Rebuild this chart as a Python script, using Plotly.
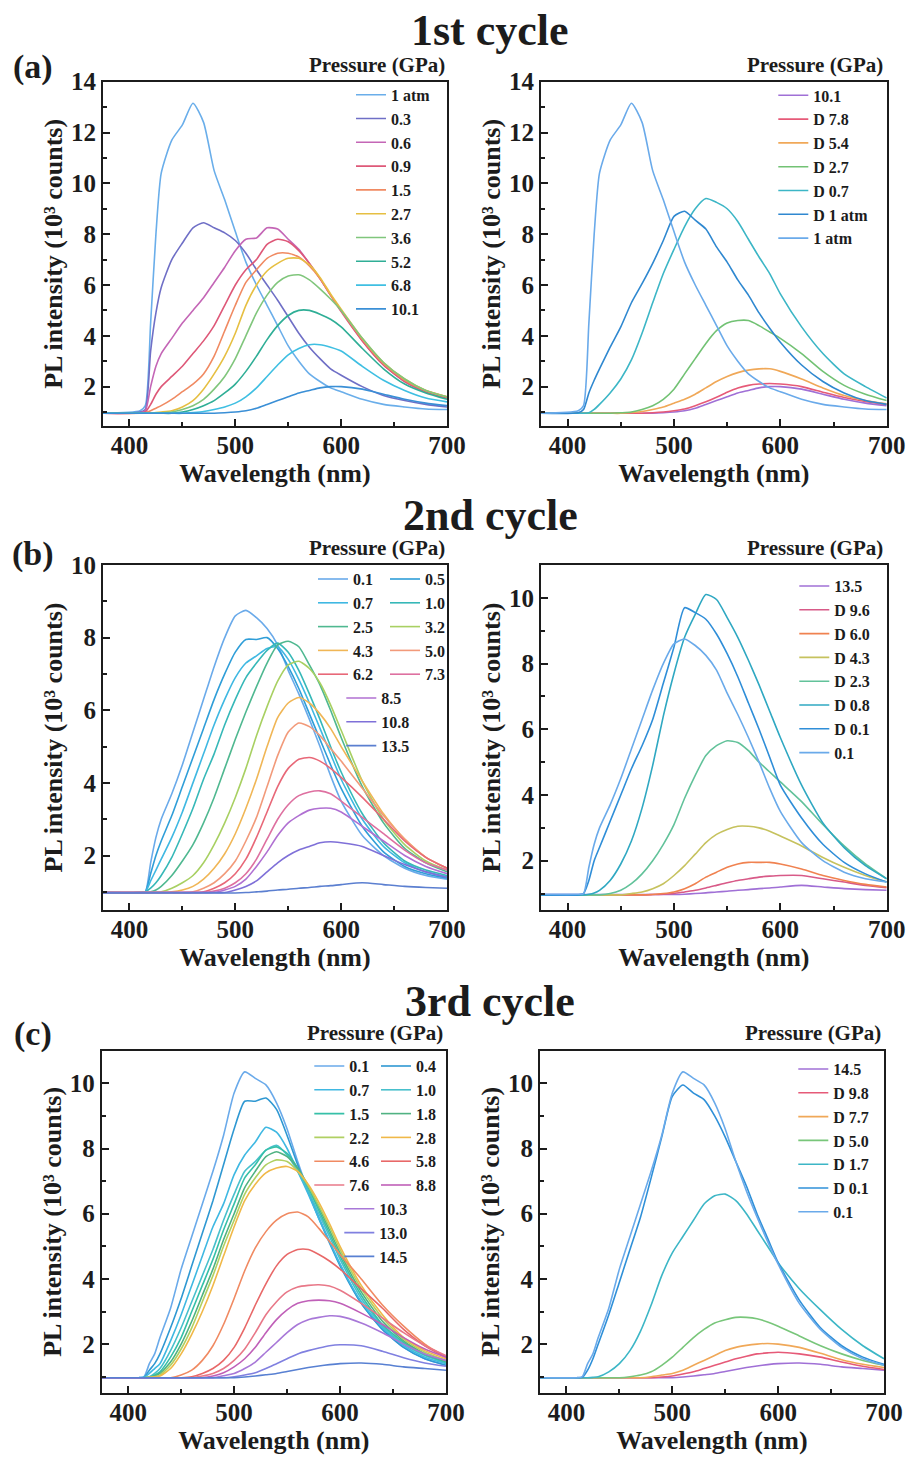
import plotly.graph_objects as go

W, H = 910, 1459
FONT = "Liberation Serif"
INK = "#1c1c1c"

# ------------------------------------------------------------------ data
WAVELENGTH = [375, 410, 415, 420, 425, 430, 440, 450, 460, 470, 480, 490, 500,
              510, 520, 530, 540, 550, 560, 570, 580, 590, 600, 620, 640, 660, 680, 700]

# 1st cycle, compression (10^3 counts)
c1_1atm = [0.95,1.05,1.25,4.5,8.0,10.4,11.7,12.3,13.15,12.4,10.5,9.35,8.1,6.9,6.0,5.2,4.4,3.6,3.0,2.5,2.2,1.95,1.8,1.5,1.3,1.2,1.12,1.1]
c1_0p3 = [0.95,1.0,1.1,3.4,4.9,5.9,7.0,7.65,8.25,8.45,8.25,8.05,7.75,7.25,6.6,6.0,5.4,4.75,4.1,3.55,3.1,2.7,2.45,2.0,1.65,1.45,1.3,1.2]
c1_0p6 = [0.95,0.97,1.05,2.0,2.8,3.3,3.9,4.5,5.0,5.5,6.1,6.7,7.35,7.8,7.85,8.25,8.2,7.8,7.4,6.85,6.25,5.6,5.0,3.8,2.85,2.2,1.8,1.55]
c1_0p9 = [0.95,0.96,1.0,1.3,1.7,2.0,2.4,2.8,3.3,3.8,4.4,5.2,6.0,6.6,7.0,7.6,7.8,7.7,7.35,6.85,6.25,5.6,4.95,3.8,2.85,2.2,1.8,1.55]
c1_1p5 = [0.95,0.95,0.97,1.05,1.15,1.25,1.5,1.8,2.1,2.5,3.2,4.2,5.2,6.1,6.6,7.05,7.25,7.25,7.1,6.75,6.25,5.6,5.0,3.85,2.9,2.25,1.85,1.6]
c1_2p7 = [0.95,0.95,0.95,0.96,0.98,1.0,1.05,1.2,1.45,1.9,2.5,3.2,4.1,5.2,6.0,6.55,6.85,7.05,7.05,6.8,6.3,5.65,5.05,3.9,2.95,2.3,1.85,1.6]
c1_3p6 = [0.95,0.95,0.95,0.95,0.96,0.97,1.0,1.1,1.25,1.5,1.9,2.4,3.1,4.0,4.9,5.6,6.1,6.35,6.4,6.2,5.85,5.45,5.0,3.9,2.95,2.3,1.85,1.6]
c1_5p2 = [0.95,0.95,0.95,0.95,0.95,0.95,0.95,1.0,1.1,1.25,1.45,1.75,2.1,2.6,3.2,3.85,4.4,4.8,5.0,5.0,4.85,4.65,4.35,3.5,2.7,2.1,1.75,1.5]
c1_6p8 = [0.95,0.95,0.95,0.95,0.95,0.95,0.95,0.95,0.98,1.02,1.1,1.2,1.35,1.6,1.95,2.4,2.85,3.25,3.5,3.65,3.65,3.55,3.4,2.8,2.25,1.85,1.55,1.4]
c1_10p1 = [0.95,0.95,0.95,0.95,0.95,0.95,0.95,0.95,0.95,0.95,0.95,0.97,1.0,1.05,1.15,1.3,1.45,1.6,1.75,1.85,1.95,2.0,2.0,1.9,1.7,1.5,1.35,1.25]

# 1st cycle, decompression
c1d_10p1 = [0.95,0.95,0.95,0.95,0.95,0.95,0.95,0.95,0.95,0.95,0.96,0.98,1.0,1.05,1.15,1.27,1.4,1.55,1.7,1.8,1.88,1.95,1.98,1.92,1.72,1.52,1.37,1.25]
c1d_7p8 = [0.95,0.95,0.95,0.95,0.95,0.95,0.95,0.95,0.95,0.95,0.97,1.0,1.05,1.12,1.25,1.4,1.58,1.78,1.95,2.05,2.1,2.12,2.1,2.0,1.78,1.57,1.42,1.3]
c1d_5p4 = [0.95,0.95,0.95,0.95,0.95,0.95,0.95,0.95,0.98,1.02,1.1,1.2,1.35,1.5,1.7,1.95,2.2,2.4,2.55,2.65,2.7,2.7,2.6,2.3,1.95,1.65,1.45,1.32]
c1d_2p7 = [0.95,0.95,0.95,0.95,0.95,0.95,0.95,0.97,1.0,1.1,1.25,1.5,1.9,2.5,3.1,3.7,4.2,4.5,4.6,4.6,4.4,4.15,3.9,3.3,2.6,2.05,1.7,1.45]
c1d_0p7 = [0.95,0.95,0.95,0.97,1.1,1.3,1.75,2.3,3.05,4.1,5.3,6.45,7.4,8.3,9.0,9.4,9.25,9.0,8.5,7.8,7.1,6.45,5.65,4.35,3.3,2.5,2.0,1.55]
c1d_1atm = [0.95,0.97,1.1,1.75,2.25,2.7,3.55,4.35,5.3,6.05,6.85,7.75,8.7,8.9,8.55,8.2,7.5,6.9,6.2,5.6,4.9,4.3,3.75,2.85,2.2,1.75,1.45,1.3]

# 2nd cycle, compression
c2_0p1 = [0.98,0.98,1.0,1.8,2.5,3.0,3.7,4.5,5.4,6.3,7.2,8.0,8.6,8.75,8.55,8.25,7.8,7.1,6.45,5.75,5.0,4.2,3.5,2.55,2.0,1.65,1.45,1.35]
c2_0p5 = [0.98,0.98,1.0,1.5,2.0,2.4,3.1,3.9,4.7,5.5,6.3,7.0,7.6,7.95,7.95,8.0,7.7,7.2,6.6,5.9,5.2,4.5,3.85,2.8,2.1,1.7,1.5,1.38]
c2_0p7 = [0.98,0.98,1.0,1.3,1.6,1.9,2.5,3.2,4.0,4.8,5.6,6.3,6.9,7.3,7.5,7.7,7.75,7.4,6.85,6.2,5.5,4.8,4.1,3.0,2.25,1.8,1.55,1.42]
c2_1p0 = [0.98,0.98,1.0,1.1,1.25,1.45,1.95,2.6,3.3,4.1,4.8,5.6,6.3,6.9,7.3,7.65,7.85,7.6,7.1,6.45,5.75,5.0,4.3,3.15,2.35,1.85,1.6,1.45]
c2_2p5 = [0.98,0.98,0.98,1.0,1.05,1.15,1.45,1.85,2.3,2.9,3.6,4.4,5.2,5.95,6.65,7.3,7.8,7.9,7.75,7.25,6.7,6.0,5.25,3.9,2.9,2.2,1.8,1.55]
c2_3p2 = [0.98,0.98,0.98,0.98,0.99,1.0,1.1,1.25,1.45,1.8,2.3,2.9,3.6,4.4,5.3,6.1,6.8,7.25,7.35,7.15,6.75,6.15,5.45,4.05,3.0,2.3,1.85,1.6]
c2_4p3 = [0.98,0.98,0.98,0.98,0.98,0.98,1.0,1.05,1.15,1.35,1.65,2.05,2.6,3.3,4.1,5.0,5.8,6.2,6.35,6.2,5.9,5.5,5.0,4.05,3.15,2.45,1.95,1.65]
c2_5p0 = [0.98,0.98,0.98,0.98,0.98,0.98,0.98,0.98,1.0,1.1,1.25,1.5,1.85,2.4,3.05,3.9,4.75,5.4,5.65,5.55,5.3,4.95,4.6,3.85,3.1,2.45,1.95,1.65]
c2_6p2 = [0.98,0.98,0.98,0.98,0.98,0.98,0.98,0.98,0.98,1.0,1.1,1.25,1.5,1.9,2.5,3.2,3.9,4.4,4.65,4.7,4.6,4.4,4.15,3.6,3.0,2.4,1.95,1.65]
c2_7p3 = [0.98,0.98,0.98,0.98,0.98,0.98,0.98,0.98,0.98,0.98,1.02,1.1,1.25,1.5,1.9,2.45,3.0,3.4,3.65,3.75,3.78,3.7,3.5,3.05,2.6,2.15,1.8,1.6]
c2_8p5 = [0.98,0.98,0.98,0.98,0.98,0.98,0.98,0.98,0.98,0.98,0.98,1.05,1.15,1.35,1.7,2.1,2.55,2.9,3.1,3.25,3.3,3.3,3.2,2.8,2.4,2.0,1.7,1.5]
c2_10p8 = [0.98,0.98,0.98,0.98,0.98,0.98,0.98,0.98,0.98,0.98,0.98,0.98,1.05,1.15,1.3,1.55,1.8,2.0,2.15,2.25,2.35,2.38,2.35,2.25,2.0,1.75,1.55,1.4]
c2_13p5 = [0.97,0.97,0.97,0.97,0.97,0.97,0.97,0.97,0.97,0.97,0.97,0.97,0.97,0.98,1.0,1.02,1.05,1.07,1.1,1.12,1.15,1.17,1.2,1.25,1.2,1.15,1.12,1.1]

# 2nd cycle, decompression
c2d_9p6 = [0.96,0.96,0.96,0.96,0.96,0.96,0.96,0.96,0.96,0.96,0.97,0.98,1.0,1.05,1.1,1.17,1.25,1.33,1.4,1.45,1.5,1.53,1.55,1.55,1.45,1.35,1.25,1.18]
c2d_6p0 = [0.96,0.96,0.96,0.96,0.96,0.96,0.96,0.96,0.96,0.96,0.97,1.0,1.05,1.15,1.3,1.5,1.65,1.8,1.9,1.95,1.95,1.95,1.9,1.75,1.55,1.4,1.28,1.2]
c2d_4p3 = [0.96,0.96,0.96,0.96,0.96,0.96,0.96,0.96,1.0,1.05,1.15,1.3,1.55,1.85,2.2,2.55,2.8,2.95,3.05,3.05,3.0,2.9,2.75,2.45,2.1,1.8,1.55,1.35]
c2d_2p3 = [0.96,0.96,0.96,0.96,0.96,0.96,1.0,1.1,1.3,1.6,2.0,2.5,3.1,3.9,4.6,5.2,5.5,5.65,5.6,5.35,5.0,4.7,4.4,3.8,3.1,2.45,1.9,1.45]
c2d_0p8 = [0.96,0.96,0.96,0.98,1.02,1.1,1.4,1.9,2.6,3.6,4.9,6.4,7.7,8.8,9.5,10.1,9.95,9.4,8.8,8.1,7.35,6.55,5.75,4.3,3.15,2.4,1.85,1.45]
c2d_0p1 = [0.96,0.96,1.0,1.4,2.0,2.4,3.2,4.0,4.8,5.5,6.3,7.4,8.5,9.7,9.55,9.35,8.9,8.3,7.6,6.8,6.0,5.15,4.3,3.3,2.5,1.95,1.6,1.35]

# 3rd cycle, compression
c3_0p1 = [0.97,0.97,1.0,1.4,1.7,2.2,3.1,4.3,5.3,6.3,7.3,8.4,9.7,10.35,10.15,9.95,9.4,8.6,7.6,6.7,5.9,5.15,4.45,3.25,2.45,1.9,1.55,1.35]
c3_0p4 = [0.97,0.97,0.98,1.2,1.4,1.7,2.5,3.4,4.4,5.4,6.4,7.5,8.6,9.45,9.45,9.55,9.2,8.4,7.5,6.65,5.85,5.1,4.4,3.25,2.45,1.9,1.55,1.35]
c3_0p7 = [0.97,0.97,0.98,1.1,1.25,1.4,2.1,2.9,3.8,4.7,5.6,6.3,7.2,7.8,8.2,8.65,8.5,8.0,7.3,6.6,5.85,5.15,4.45,3.3,2.5,1.95,1.6,1.4]
c3_1p0 = [0.97,0.97,0.97,1.0,1.1,1.25,1.8,2.5,3.3,4.1,4.9,5.8,6.6,7.3,7.6,7.95,8.1,7.8,7.3,6.7,6.0,5.3,4.6,3.4,2.55,2.0,1.65,1.42]
c3_1p5 = [0.97,0.97,0.97,0.98,1.05,1.15,1.6,2.2,3.0,3.8,4.6,5.5,6.3,7.1,7.5,7.95,8.05,7.85,7.4,6.8,6.1,5.4,4.7,3.5,2.6,2.05,1.68,1.45]
c3_1p8 = [0.97,0.97,0.97,0.98,1.02,1.1,1.45,2.0,2.7,3.5,4.3,5.2,6.0,6.8,7.3,7.75,7.9,7.75,7.4,6.85,6.2,5.5,4.8,3.6,2.7,2.1,1.7,1.48]
c3_2p2 = [0.97,0.97,0.97,0.98,1.0,1.05,1.35,1.85,2.5,3.3,4.1,5.0,5.8,6.6,7.1,7.5,7.65,7.6,7.3,6.85,6.25,5.6,4.9,3.7,2.8,2.15,1.75,1.5]
c3_2p8 = [0.97,0.97,0.97,0.98,0.99,1.02,1.25,1.7,2.3,3.0,3.8,4.7,5.6,6.4,6.9,7.25,7.4,7.45,7.3,6.9,6.35,5.7,5.0,3.8,2.9,2.2,1.8,1.55]
c3_4p6 = [0.97,0.97,0.97,0.97,0.97,0.97,0.97,1.05,1.2,1.5,1.95,2.6,3.4,4.25,4.95,5.45,5.8,6.0,6.05,5.9,5.55,5.15,4.75,4.0,3.2,2.55,2.0,1.6]
c3_5p8 = [0.97,0.97,0.97,0.97,0.97,0.97,0.97,0.97,1.0,1.1,1.25,1.5,1.9,2.5,3.2,3.85,4.4,4.75,4.9,4.9,4.75,4.55,4.3,3.7,3.1,2.45,1.95,1.6]
c3_7p6 = [0.97,0.97,0.97,0.97,0.97,0.97,0.97,0.97,0.97,1.02,1.1,1.25,1.5,1.85,2.35,2.9,3.3,3.6,3.75,3.8,3.82,3.78,3.65,3.25,2.8,2.35,1.95,1.65]
c3_8p8 = [0.97,0.97,0.97,0.97,0.97,0.97,0.97,0.97,0.97,0.97,1.02,1.12,1.3,1.55,1.9,2.35,2.75,3.05,3.25,3.33,3.35,3.33,3.25,2.95,2.6,2.2,1.85,1.6]
c3_10p3 = [0.97,0.97,0.97,0.97,0.97,0.97,0.97,0.97,0.97,0.97,0.97,1.03,1.1,1.25,1.45,1.75,2.05,2.35,2.6,2.75,2.82,2.87,2.85,2.65,2.35,2.0,1.7,1.5]
c3_13p0 = [0.97,0.97,0.97,0.97,0.97,0.97,0.97,0.97,0.97,0.97,0.97,0.97,1.0,1.05,1.12,1.25,1.4,1.55,1.7,1.8,1.88,1.95,1.98,1.95,1.78,1.58,1.42,1.32]
c3_14p5 = [0.97,0.97,0.97,0.97,0.97,0.97,0.97,0.97,0.97,0.97,0.97,0.97,0.97,0.99,1.02,1.06,1.1,1.16,1.22,1.28,1.33,1.37,1.4,1.42,1.38,1.3,1.25,1.2]

# 3rd cycle, decompression
c3d_9p8 = [0.97,0.97,0.97,0.97,0.97,0.97,0.97,0.97,0.97,0.97,0.97,0.99,1.02,1.08,1.15,1.25,1.35,1.45,1.55,1.63,1.7,1.73,1.75,1.7,1.6,1.45,1.32,1.22]
c3d_7p7 = [0.97,0.97,0.97,0.97,0.97,0.97,0.97,0.97,0.97,0.97,1.0,1.05,1.1,1.2,1.35,1.5,1.65,1.8,1.9,1.96,2.0,2.02,2.0,1.9,1.72,1.52,1.38,1.28]
c3d_5p0 = [0.97,0.97,0.97,0.97,0.97,0.97,0.97,0.97,1.0,1.05,1.15,1.35,1.6,1.9,2.2,2.45,2.65,2.75,2.82,2.82,2.78,2.68,2.55,2.25,1.95,1.7,1.5,1.35]
c3d_1p7 = [0.97,0.97,0.97,0.97,0.98,1.0,1.15,1.4,1.8,2.4,3.2,4.1,4.8,5.3,5.8,6.3,6.55,6.6,6.4,6.0,5.5,5.0,4.5,3.7,3.05,2.45,1.95,1.55]
c3d_0p1 = [0.97,0.97,0.98,1.2,1.55,2.0,2.9,3.9,4.9,5.9,7.1,8.35,9.6,9.95,9.7,9.5,9.0,8.35,7.6,6.85,6.0,5.25,4.5,3.35,2.5,1.95,1.6,1.38]

# legend labels per panel
P1_LABELS = ["1 atm", "0.3", "0.6", "0.9", "1.5", "2.7", "3.6", "5.2", "6.8", "10.1"]
P2_LABELS = ["10.1", "D 7.8", "D 5.4", "D 2.7", "D 0.7", "D 1 atm", "1 atm"]
P3_LABELS = ["0.1", "0.5", "0.7", "1.0", "2.5", "3.2", "4.3", "5.0", "6.2", "7.3", "8.5", "10.8", "13.5"]
P4_LABELS = ["13.5", "D 9.6", "D 6.0", "D 4.3", "D 2.3", "D 0.8", "D 0.1", "0.1"]
P5_LABELS = ["0.1", "0.4", "0.7", "1.0", "1.5", "1.8", "2.2", "2.8", "4.6", "5.8", "7.6", "8.8", "10.3", "13.0", "14.5"]
P6_LABELS = ["14.5", "D 9.8", "D 7.7", "D 5.0", "D 1.7", "D 0.1", "0.1"]

P1_SERIES = [c1_1atm, c1_0p3, c1_0p6, c1_0p9, c1_1p5, c1_2p7, c1_3p6, c1_5p2, c1_6p8, c1_10p1]
P2_SERIES = [c1_10p1, c1d_7p8, c1d_5p4, c1d_2p7, c1d_0p7, c1d_1atm, c1_1atm]
P3_SERIES = [c2_0p1, c2_0p5, c2_0p7, c2_1p0, c2_2p5, c2_3p2, c2_4p3, c2_5p0, c2_6p2, c2_7p3, c2_8p5, c2_10p8, c2_13p5]
P4_SERIES = [c2_13p5, c2d_9p6, c2d_6p0, c2d_4p3, c2d_2p3, c2d_0p8, c2d_0p1, c2_0p1]
P5_SERIES = [c3_0p1, c3_0p4, c3_0p7, c3_1p0, c3_1p5, c3_1p8, c3_2p2, c3_2p8, c3_4p6, c3_5p8, c3_7p6, c3_8p8, c3_10p3, c3_13p0, c3_14p5]
P6_SERIES = [c3_14p5, c3d_9p8, c3d_7p7, c3d_5p0, c3d_1p7, c3d_0p1, c3_0p1]

# ------------------------------------------------------------------ styles
P1_COLORS = ["#6aaeea", "#6f6fc6", "#c466b6", "#de5878", "#f08a62", "#e6bf42",
             "#80c67c", "#2fae96", "#3fbfe2", "#3a8fd6"]
P2_COLORS = ["#a070d6", "#e65a78", "#f0a858", "#72c274", "#3cb6c6", "#2f88d0", "#6aaaea"]
P3_COLORS = ["#6aaaea", "#2f9ed8", "#3fb8e2", "#36b8b8", "#4fb890", "#a8d062", "#f0b656",
             "#f29a7a", "#e86878", "#de70a0", "#b070d2", "#7f70d8", "#5b7fd0"]
P4_COLORS = ["#a070d6", "#d85a88", "#f08250", "#c6c25e", "#62c29a", "#2fa8c2", "#2f8ed8", "#6aaaea"]
P5_COLORS = ["#6aaaea", "#2f98d2", "#3fb8e2", "#48c0cc", "#36c0a8", "#50b282", "#b0d062",
             "#f0b848", "#f08a62", "#e86868", "#e87888", "#c060b8", "#a878d8", "#8080e0", "#5880d2"]
P6_COLORS = ["#a070d6", "#e65a78", "#f0a858", "#78c67a", "#3cb6c6", "#2f90d8", "#6aaaea"]

P1_LEG = ["legend"] * 10
P2_LEG = ["legend2"] * 7
P3_LEG = ["legend3", "legend4", "legend3", "legend4", "legend3", "legend4", "legend3",
          "legend4", "legend3", "legend4", "legend5", "legend5", "legend5"]
P4_LEG = ["legend6"] * 8
P5_LEG = ["legend7", "legend8", "legend7", "legend8", "legend7", "legend8", "legend7",
          "legend8", "legend7", "legend8", "legend7", "legend8", "legend9", "legend9", "legend9"]
P6_LEG = ["legend10"] * 7


def fx(px):
    return px / W


def fy(py):
    return 1 - py / H


PANELS = [
    dict(xd=(103, 447), yd=(81.7, 426), yr=[0.45, 14], lab=P1_LABELS, ser=P1_SERIES, col=P1_COLORS, leg=P1_LEG),
    dict(xd=(541, 886.7), yd=(81.7, 426), yr=[0.45, 14], lab=P2_LABELS, ser=P2_SERIES, col=P2_COLORS, leg=P2_LEG),
    dict(xd=(103, 447), yd=(565, 910), yr=[0.5, 10], lab=P3_LABELS, ser=P3_SERIES, col=P3_COLORS, leg=P3_LEG),
    dict(xd=(541, 886.7), yd=(565, 910), yr=[0.5, 11], lab=P4_LABELS, ser=P4_SERIES, col=P4_COLORS, leg=P4_LEG),
    dict(xd=(101.7, 446), yd=(1050.7, 1393), yr=[0.5, 11], lab=P5_LABELS, ser=P5_SERIES, col=P5_COLORS, leg=P5_LEG),
    dict(xd=(540, 884), yd=(1050.7, 1393), yr=[0.5, 11], lab=P6_LABELS, ser=P6_SERIES, col=P6_COLORS, leg=P6_LEG),
]

fig = go.Figure()
layout = {}

tickfont = dict(family=FONT, size=25, color=INK, weight="bold")
titlefont = dict(family=FONT, size=26, color=INK, weight="bold")

for i, p in enumerate(PANELS):
    n = "" if i == 0 else str(i + 1)
    for lab, ys, col, lg in zip(p["lab"], p["ser"], p["col"], p["leg"]):
        fig.add_trace(go.Scatter(
            x=WAVELENGTH, y=ys, mode="lines", name=lab,
            line=dict(color=col, width=1.6, shape="spline", smoothing=0.6),
            xaxis="x" + n, yaxis="y" + n, legend=lg,
        ))
    layout["xaxis" + n] = dict(
        domain=[fx(p["xd"][0]), fx(p["xd"][1])], anchor="y" + n,
        range=[375, 700], tick0=0, dtick=100,
        showline=True, linecolor=INK, linewidth=2, mirror=True,
        ticks="inside", ticklen=7, tickwidth=2, tickcolor=INK,
        minor=dict(ticks="inside", ticklen=4, tickwidth=1.5, tickcolor=INK, dtick=50, tick0=0),
        showgrid=False, zeroline=False, automargin=False,
        tickfont=tickfont, ticklabelstandoff=-4,
        title=dict(text="Wavelength (nm)", font=titlefont, standoff=3),
    )
    layout["yaxis" + n] = dict(
        domain=[fy(p["yd"][1]), fy(p["yd"][0])], anchor="x" + n,
        range=p["yr"], tick0=0, dtick=2,
        showline=True, linecolor=INK, linewidth=2, mirror=True,
        ticks="inside", ticklen=7, tickwidth=2, tickcolor=INK,
        minor=dict(ticks="inside", ticklen=4, tickwidth=1.5, tickcolor=INK, dtick=1, tick0=0),
        showgrid=False, zeroline=False, automargin=False,
        tickfont=tickfont,
        title=dict(text="PL intensity (10³ counts)", font=titlefont, standoff=1),
    )

LEGEND_POS = {
    "legend": (351, 77.8), "legend2": (773.3, 78.4),
    "legend3": (313, 562.1), "legend4": (385, 562.1), "legend5": (341.3, 681.1),
    "legend6": (794.3, 569.1),
    "legend7": (309.3, 1049.1), "legend8": (376, 1049.1), "legend9": (339.3, 1191.9),
    "legend10": (793.3, 1052.1),
}
for key, (lx, ly) in LEGEND_POS.items():
    layout[key] = dict(
        x=fx(lx), y=fy(ly), xanchor="left", yanchor="top",
        bgcolor="rgba(0,0,0,0)", borderwidth=0, tracegroupgap=0,
        font=dict(family=FONT, size=16, color=INK, weight="bold"),
    )

annotations = []
for text, cx, cy in [("1st cycle", 490, 30), ("2nd cycle", 490, 515), ("3rd cycle", 490, 1001)]:
    annotations.append(dict(text=text, x=fx(cx), y=fy(cy), xref="paper", yref="paper",
                            xanchor="center", yanchor="middle", showarrow=False,
                            font=dict(family=FONT, size=44, color=INK, weight="bold")))
for text, cx, cy in [("(a)", 33, 66.7), ("(b)", 33, 554), ("(c)", 33, 1034)]:
    annotations.append(dict(text=text, x=fx(cx), y=fy(cy), xref="paper", yref="paper",
                            xanchor="center", yanchor="middle", showarrow=False,
                            font=dict(family=FONT, size=34, color=INK, weight="bold")))
for rx, cy in [(447, 65), (885, 65), (447, 548.3), (885, 548.3), (445, 1033.3), (883.3, 1033.3)]:
    annotations.append(dict(text="Pressure (GPa)", x=fx(rx), y=fy(cy), xref="paper", yref="paper",
                            xanchor="right", yanchor="middle", showarrow=False,
                            font=dict(family=FONT, size=21, color=INK, weight="bold")))

fig.update_layout(
    **layout,
    annotations=annotations,
    width=W, height=H, autosize=False,
    margin=dict(l=0, r=0, t=0, b=0, autoexpand=False),
    paper_bgcolor="white", plot_bgcolor="white",
    showlegend=True,
)

fig.write_html("out.html")
